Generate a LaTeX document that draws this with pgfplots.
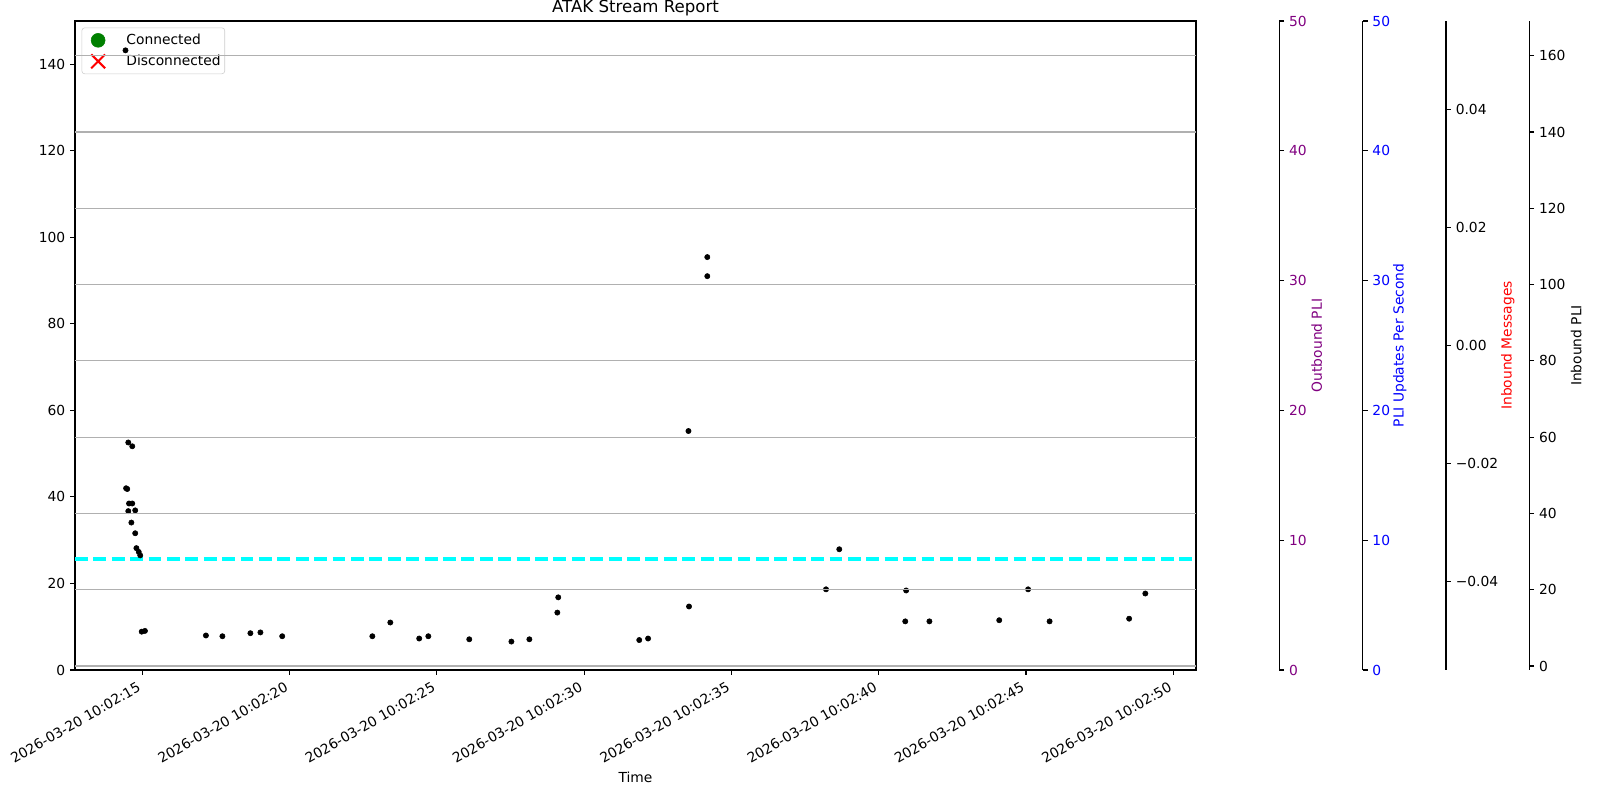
\documentclass[border=0pt]{standalone}
\usepackage{fontspec}
\setmainfont{DejaVu Sans}
\usepackage{pgfplots}
\pgfplotsset{compat=1.18}
\newdimen\px \px=0.7227pt
\definecolor{mplpurple}{HTML}{800080}
\definecolor{mplgreen}{HTML}{008000}
\definecolor{gridgray}{HTML}{B0B0B0}
\definecolor{legedge}{HTML}{CCCCCC}
\definecolor{mplcyan}{HTML}{00FFFF}
\pgfplotsset{
  base/.style={scale only axis, width=1121\px, height=649\px, anchor=south west,
    xmin=12.716, xmax=50.77,
    tick align=outside, major tick length=3.5bp,
    tick style={black, line width=0.8bp},
    axis line style={line width=0.8bp},
    tick label style={font=\fontsize{10}{12}\selectfont},
    label style={font=\fontsize{10}{12}\selectfont},
    /pgf/number format/assume math mode=true,
    scaled ticks=false,
  },
  spine/.style={base, axis x line=none, axis y line*=right, xtick=\empty},
}
\pgfplotstableread{
x y
14.43 161.4
14.525 58.6
14.66 57.6
14.45 46.6
14.49 46.4
14.55 42.6
14.66 42.6
14.525 40.6
14.76 40.8
14.63 37.6
14.76 34.8
14.80 30.9
14.88 29.9
14.93 29.0
14.98 9.0
15.09 9.2
17.16 8.0
17.72 7.8
18.67 8.6
19.01 8.8
19.75 7.8
22.81 7.8
23.42 11.4
24.40 7.2
24.71 7.8
26.10 7.0
27.53 6.4
28.14 7.0
29.09 14.0
29.12 18.0
31.87 6.8
32.17 7.2
33.54 61.6
33.56 15.6
34.18 107.2
34.18 102.2
38.21 20.1
38.66 30.6
40.90 11.7
40.93 19.8
41.72 11.7
44.09 12.0
45.07 20.1
45.80 11.7
48.50 12.4
49.05 19.0
}\inbound
\begin{document}
\begin{tikzpicture}
% main axis
\begin{axis}[base, at={(75\px,130\px)},
  ymin=0, ymax=150, ytick={0,20,...,140},
  xtick={15,20,...,50},
  xticklabels={2026-03-20 10:02:15,2026-03-20 10:02:20,2026-03-20 10:02:25,2026-03-20 10:02:30,2026-03-20 10:02:35,2026-03-20 10:02:40,2026-03-20 10:02:45,2026-03-20 10:02:50},
  xtick pos=lower, ytick pos=left,
  xticklabel style={xshift=-4\px, rotate=30, anchor=north east},
  xlabel={Time},
  xlabel style={at={(axis description cs:0.5,-0.1656)}, anchor=center},
  title={ATAK Stream Report},
  title style={at={(axis description cs:0.5,1)}, anchor=base, yshift=0pt, font=\fontsize{12}{14}\selectfont},
  legend style={at={(axis description cs:0,1)}, anchor=north west, xshift=6.6\px, yshift=-6.6\px,
    draw=legedge, fill=white, fill opacity=0.8, text opacity=1, rounded corners=2bp,
    font=\fontsize{10}{12}\selectfont, inner xsep=1pt, inner ysep=2.25pt, row sep=1.7pt,
    nodes={inner sep=2pt, text height=7.5pt, text depth=2pt}},
  legend cell align=left,
  legend image code/.code={\path (0pt,0pt) (27.7pt,0pt); \draw[#1] plot coordinates {(10pt,0pt)};},
]
\addlegendimage{only marks, mark=*, mark size=5bp, mplgreen, fill opacity=1, draw opacity=1}
\addlegendentry{Connected}
\addlegendimage{only marks, mark=x, mark size=7.07bp, red, line width=1.5bp, draw opacity=1}
\addlegendentry{Disconnected}
\addplot[mplcyan, line width=2.5bp, dash pattern=on 9.25bp off 4bp, forget plot] coordinates {(12.716,25.6) (50.77,25.6)};
\end{axis}
% dots (inbound PLI units)
\begin{axis}[base, at={(75\px,130\px)}, ymin=-1.05, ymax=169.1, hide axis]
\addplot[only marks, mark=*, mark size=1.9pt, black] table[x=x, y=y] {\inbound};
\end{axis}
% grid
\begin{axis}[base, at={(75\px,130\px)}, ymin=-1.05, ymax=169.1, ytick={0,20,...,160}, xtick=\empty,
  ymajorgrids, grid style={gridgray, line width=0.8bp}, axis line style={draw=none}, ytick style={draw=none}, yticklabels={}]
\addplot[draw=none] coordinates {(20,20)};
\end{axis}
% Outbound PLI
\begin{axis}[spine, at={(75\px+83.33\px,130\px)}, ymin=0, ymax=50, ytick={0,10,...,50},
  yticklabel style={text=mplpurple}, ylabel={Outbound PLI},
  every axis y label/.style={at={(axis description cs:1.03336,0.5)}, rotate=90, anchor=center, text=mplpurple, font=\fontsize{10}{12}\selectfont}]
\addplot[draw=none] coordinates {(20,10)};
\end{axis}
% PLI Updates Per Second
\begin{axis}[spine, at={(75\px+166.67\px,130\px)}, ymin=0, ymax=50, ytick={0,10,...,50},
  yticklabel style={text=blue}, ylabel={PLI Updates Per Second},
  every axis y label/.style={at={(axis description cs:1.0331,0.5)}, rotate=90, anchor=center, text=blue, font=\fontsize{10}{12}\selectfont}]
\addplot[draw=none] coordinates {(20,10)};
\end{axis}
% Inbound Messages
\begin{axis}[spine, at={(75\px+250\px,130\px)}, ymin=-0.055, ymax=0.055, ytick={-0.04,-0.02,0,0.02,0.04},
  yticklabels={−0.04,−0.02,0.00,0.02,0.04}, ylabel={Inbound Messages},
  every axis y label/.style={at={(axis description cs:1.0552,0.5)}, rotate=90, anchor=center, text=red, font=\fontsize{10}{12}\selectfont}]
\addplot[draw=none] coordinates {(20,0)};
\end{axis}
% Inbound PLI
\begin{axis}[spine, at={(75\px+333.33\px,130\px)}, ymin=-1.05, ymax=169.1, ytick={0,20,...,160},
  ylabel={Inbound PLI},
  every axis y label/.style={at={(axis description cs:1.0419,0.5)}, rotate=90, anchor=center, text=black, font=\fontsize{10}{12}\selectfont}]
\addplot[draw=none] coordinates {(20,10)};
\end{axis}
\pgfresetboundingbox
\path[use as bounding box] (0,0) rectangle (1600\px,800\px);
\end{tikzpicture}
\end{document}
